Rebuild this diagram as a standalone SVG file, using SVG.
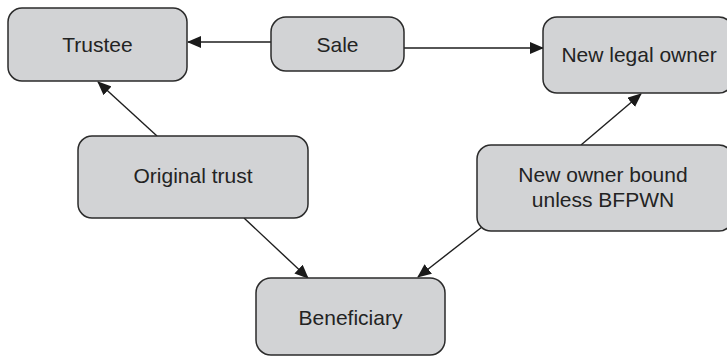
<svg xmlns="http://www.w3.org/2000/svg" width="727" height="356" viewBox="0 0 727 356">
<style>
.box{fill:#d2d3d5;stroke:#2b2b2b;stroke-width:1.5}
.lbl{font-family:"Liberation Sans",Arial,sans-serif;font-size:21px;fill:#232323;text-anchor:middle}
.conn{stroke:#1e1e1e;stroke-width:1.4;fill:none;marker-end:url(#arr)}
</style>
<defs>
<marker id="arr" markerUnits="userSpaceOnUse" markerWidth="14" markerHeight="12" refX="13" refY="6" orient="auto">
<path d="M0,0 L14,6 L0,12 z" fill="#1a1a1a"/>
</marker>
</defs>
<rect width="727" height="356" fill="#ffffff"/>
<g id="connectors">
<line class="conn" x1="271" y1="42" x2="188" y2="42"/>
<line class="conn" x1="404" y1="48" x2="543" y2="48"/>
<line class="conn" x1="157" y1="136" x2="98" y2="82"/>
<line class="conn" x1="581" y1="145" x2="641" y2="94"/>
<line class="conn" x1="244" y1="218" x2="308" y2="278"/>
<line class="conn" x1="482" y1="227" x2="418" y2="277"/>
</g>
<g id="trustee">
<rect class="box" x="8" y="8" width="179" height="73" rx="14"/>
<text class="lbl" x="97.5" y="52">Trustee</text>
</g>
<g id="sale">
<rect class="box" x="271" y="17" width="133" height="54" rx="15"/>
<text class="lbl" x="337.5" y="52">Sale</text>
</g>
<g id="new-legal-owner">
<rect class="box" x="543" y="17" width="190" height="76" rx="14"/>
<text class="lbl" x="639" y="62">New legal owner</text>
</g>
<g id="original-trust">
<rect class="box" x="78" y="136" width="230" height="82" rx="14"/>
<text class="lbl" x="193" y="183">Original trust</text>
</g>
<g id="new-owner-bound">
<rect class="box" x="477" y="145" width="256" height="86" rx="14"/>
<text class="lbl" x="603" y="182">New owner bound</text>
<text class="lbl" x="603" y="207">unless BFPWN</text>
</g>
<g id="beneficiary">
<rect class="box" x="256" y="278" width="189" height="77" rx="15"/>
<text class="lbl" x="350.5" y="325">Beneficiary</text>
</g>
</svg>
